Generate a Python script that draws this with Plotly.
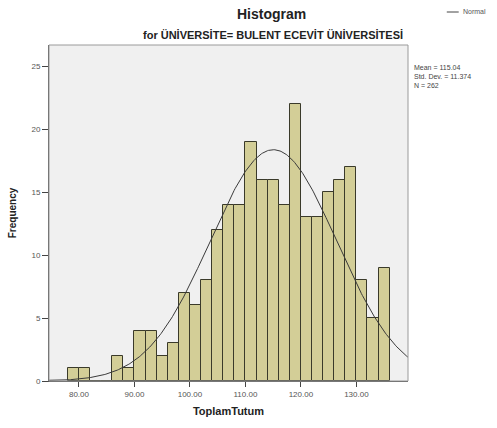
import numpy as np
import plotly.graph_objects as go

# Data
bin_left = [78, 80, 82, 84, 86, 88, 90, 92, 94, 96, 98, 100, 102, 104, 106, 108,
            110, 112, 114, 116, 118, 120, 122, 124, 126, 128, 130, 132, 134]
counts = [1, 1, 0, 0, 2, 1, 4, 4, 2, 3, 7, 6, 8, 12, 14, 14,
          19, 16, 16, 14, 22, 13, 13, 15, 16, 17, 8, 5, 9]
bin_width = 2
mean_val = 115.04
sd_val = 11.374
n_val = 262
x_ticks = [80, 90, 100, 110, 120, 130]
x_tick_labels = ["80.00", "90.00", "100.00", "110.00", "120.00", "130.00"]
y_ticks = [0, 5, 10, 15, 20, 25]

centers = [b + bin_width / 2 for b in bin_left]

xs = np.linspace(70, 145, 400)
ys = n_val * bin_width / (sd_val * np.sqrt(2 * np.pi)) * np.exp(-0.5 * ((xs - mean_val) / sd_val) ** 2)

FONT = "Liberation Sans"

fig = go.Figure()
fig.add_trace(go.Bar(
    x=centers, y=counts, width=bin_width,
    marker=dict(color="#D3CE97", line=dict(color="#3a3a2a", width=1)),
    showlegend=False, hoverinfo="skip",
))
fig.add_trace(go.Scatter(
    x=xs, y=ys, mode="lines", name="Normal",
    line=dict(color="#3a3a3a", width=1),
    showlegend=False,
))

fig.update_layout(
    width=497, height=428,
    margin=dict(l=47, r=89, t=45, b=47),
    paper_bgcolor="white",
    plot_bgcolor="#F0F0F0",
    bargap=0,
    font=dict(family=FONT, color="#222"),
    xaxis=dict(
        range=[74.6, 139.3],
        tickvals=x_ticks, ticktext=x_tick_labels,
        ticks="outside", ticklen=5, tickcolor="#444",
        tickfont=dict(size=8, color="#555"),
        showgrid=False, zeroline=False,
        showline=True, linecolor="#555", linewidth=1, mirror=False,
        title=dict(text="<b>ToplamTutum</b>", font=dict(size=11, color="#222"), standoff=9),
    ),
    yaxis=dict(
        range=[0, 26.7],
        tickvals=y_ticks,
        ticks="outside", ticklen=6, tickcolor="#444",
        tickfont=dict(size=8, color="#555"),
        showgrid=False, zeroline=False,
        showline=True, linecolor="#555", linewidth=1,
        title=dict(text="<b>Frequency</b>", font=dict(size=10, color="#222"), standoff=12),
    ),
)

# frame around the data region
fig.add_shape(type="rect", xref="paper", yref="paper", x0=0, y0=0, x1=1, y1=1,
              line=dict(color="#9a9a9a", width=1), fillcolor="rgba(0,0,0,0)", layer="above")

# legend drawn manually (short line + label)
px = lambda p: (p - 47) / 361
py = lambda p: (381 - p) / 336
fig.add_shape(type="line", xref="paper", yref="paper",
              x0=px(447), x1=px(459), y0=py(12), y1=py(12),
              line=dict(color="#444", width=1))
fig.add_annotation(text="Normal", xref="paper", yref="paper",
                   x=px(461), y=py(12), showarrow=False,
                   font=dict(size=7, color="#555"), xanchor="left", yanchor="middle")

fig.add_annotation(text="<b>Histogram</b>", xref="paper", yref="paper",
                   x=px(271), y=py(14), showarrow=False,
                   font=dict(size=14, color="#222"), xanchor="center", yanchor="middle")
fig.add_annotation(text="<b>for ÜNİVERSİTE= BULENT ECEVİT ÜNİVERSİTESİ</b>", xref="paper", yref="paper",
                   x=px(272), y=py(35), showarrow=False,
                   font=dict(size=11, color="#222"), xanchor="center", yanchor="middle")
stats_text = f"Mean = {mean_val:.2f}<br>Std. Dev. = {sd_val}<br>N = {n_val}"
fig.add_annotation(text=stats_text, xref="paper", yref="paper",
                   x=px(412), y=py(62), showarrow=False, align="left",
                   font=dict(size=7, color="#444"), xanchor="left", yanchor="top")

fig.write_html("out.html")
